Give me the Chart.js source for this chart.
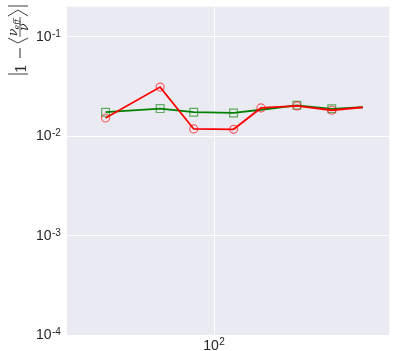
<!DOCTYPE html>
<html>
<head>
<meta charset="utf-8">
<script src="https://cdn.jsdelivr.net/npm/chart.js@4/dist/chart.umd.min.js"></script>
<style>
  html, body { margin: 0; padding: 0; background: #ffffff; }
  #c { display: block; }
</style>
</head>
<body>
<canvas id="c" width="396" height="351"></canvas>
<script>
// ---- data ----
const xValues      = [24, 49, 76, 128, 183, 293, 462, 693];
const redValues    = [0.0152, 0.0311, 0.0118, 0.0117, 0.0192, 0.0201, 0.0182, 0.0195];
const greenValues  = [0.0174, 0.0189, 0.0174, 0.0171, 0.0184, 0.0204, 0.0188, 0.0195];
const redMarkers   = [true, true, true, true, true, true, true, false];
const greenMarkers = [true, true, true, true, false, true, true, false];
const yTickValues  = [1e-4, 1e-3, 1e-2, 1e-1];
const xTickValues  = [100];
const xRange = [14.5, 980];
const yRange = [1e-4, 0.2];

const TXT = '#262626';

function supText(v) {
  const e = Math.round(Math.log10(v));
  return e < 0 ? '-' + (-e) : String(e);
}

const bgPlugin = {
  id: 'bg',
  beforeDraw(chart) {
    const { ctx, chartArea: a } = chart;
    ctx.save();
    ctx.fillStyle = '#EAEAF2';
    ctx.fillRect(a.left, a.top, a.right - a.left, a.bottom - a.top);
    ctx.restore();
  }
};

const labelPlugin = {
  id: 'labels',
  afterDraw(chart) {
    const ctx = chart.ctx;
    const ys = chart.scales.y, xs = chart.scales.x;
    ctx.save();
    ctx.fillStyle = TXT;
    ctx.textBaseline = 'alphabetic';
    // y tick labels
    yTickValues.forEach(v => {
      const py = ys.getPixelForValue(v);
      ctx.font = '14px "Liberation Sans", Arial, sans-serif';
      ctx.textAlign = 'right';
      ctx.fillText('10', 51.5, py + 4);
      ctx.font = '10px "Liberation Sans", Arial, sans-serif';
      ctx.textAlign = 'left';
      ctx.fillText(supText(v), 52, py);
    });
    // x tick labels
    xTickValues.forEach(v => {
      const px = xs.getPixelForValue(v);
      ctx.font = '14px "Liberation Sans", Arial, sans-serif';
      const w1 = ctx.measureText('10').width;
      ctx.font = '10px "Liberation Sans", Arial, sans-serif';
      const s = supText(v);
      const w2 = ctx.measureText(s).width;
      const x0 = px - (w1 + w2) / 2 - 1;
      ctx.textAlign = 'left';
      ctx.font = '14px "Liberation Sans", Arial, sans-serif';
      ctx.fillText('10', x0, 350);
      ctx.font = '10px "Liberation Sans", Arial, sans-serif';
      ctx.fillText(s, x0 + w1 + 0.5, 345);
    });

    // rotated y-axis title:  |1 - <nu_eff / nu>|
    ctx.translate(26, 76);
    ctx.rotate(-Math.PI / 2);
    ctx.strokeStyle = TXT;
    ctx.lineWidth = 0.9;
    const line = (u1, v1, u2, v2) => { ctx.beginPath(); ctx.moveTo(u1, v1); ctx.lineTo(u2, v2); ctx.stroke(); };
    line(2, -18, 2, 2);
    line(70, -18, 70, 2);
    ctx.font = '15px "DejaVu Serif", serif';
    ctx.textAlign = 'center';
    ctx.fillText('1', 7.5, 0);
    ctx.lineWidth = 1;
    line(18, -6, 28, -6);
    ctx.lineWidth = 0.9;
    ctx.beginPath(); ctx.moveTo(38, -18); ctx.lineTo(33, -8); ctx.lineTo(38, 2); ctx.stroke();
    ctx.lineWidth = 0.8;
    line(39, -6, 59, -6);
    ctx.textAlign = 'left';
    ctx.font = 'italic 12px "DejaVu Serif", serif';
    ctx.fillText('\u03bd', 40, -9);
    ctx.font = 'italic 8px "DejaVu Serif", serif';
    ctx.fillText('eff', 46.5, -7.5);
    ctx.font = 'italic 12px "DejaVu Serif", serif';
    ctx.textAlign = 'center';
    ctx.fillText('\u03bd', 49, 2);
    ctx.lineWidth = 0.9;
    ctx.beginPath(); ctx.moveTo(60, -18); ctx.lineTo(66, -8); ctx.lineTo(60, 2); ctx.stroke();
    ctx.restore();
  }
};

const redPts = xValues.map((x, i) => ({ x, y: redValues[i] }));
const greenPts = xValues.map((x, i) => ({ x, y: greenValues[i] }));

new Chart(document.getElementById('c'), {
  type: 'line',
  data: {
    datasets: [
      {
        label: 'red',
        data: redPts,
        borderColor: '#ff0000',
        borderWidth: 1.8,
        pointStyle: 'circle',
        pointRadius: redMarkers.map(m => m ? 4 : 0),
        pointBorderColor: 'rgba(255,0,0,0.6)',
        pointBackgroundColor: 'rgba(0,0,0,0)',
        pointBorderWidth: 1.2,
        tension: 0,
        fill: false
      },
      {
        label: 'green',
        data: greenPts,
        borderColor: '#008000',
        borderWidth: 1.8,
        pointStyle: 'rect',
        pointRadius: greenMarkers.map(m => m ? 5.5 : 0),
        pointBorderColor: 'rgba(0,128,0,0.6)',
        pointBackgroundColor: 'rgba(0,0,0,0)',
        pointBorderWidth: 1.2,
        tension: 0,
        fill: false
      }
    ]
  },
  options: {
    responsive: false,
    devicePixelRatio: 1,
    animation: false,
    layout: { padding: { top: 5, left: 0, right: 0, bottom: 0 } },
    plugins: { legend: { display: false }, tooltip: { enabled: false } },
    scales: {
      x: {
        type: 'logarithmic',
        min: xRange[0],
        max: xRange[1],
        afterBuildTicks: s => { s.ticks = xTickValues.map(v => ({ value: v })); },
        afterFit: s => { s.height = 16; },
        ticks: { display: false },
        grid: { color: '#ffffff', lineWidth: 1, drawTicks: false },
        border: { display: false }
      },
      y: {
        type: 'logarithmic',
        min: yRange[0],
        max: yRange[1],
        afterBuildTicks: s => { s.ticks = yTickValues.map(v => ({ value: v })); },
        afterFit: s => { s.width = 67; },
        ticks: { display: false },
        grid: { color: '#ffffff', lineWidth: 1, drawTicks: false },
        border: { display: false }
      }
    }
  },
  plugins: [bgPlugin, labelPlugin]
});
</script>
</body>
</html>
